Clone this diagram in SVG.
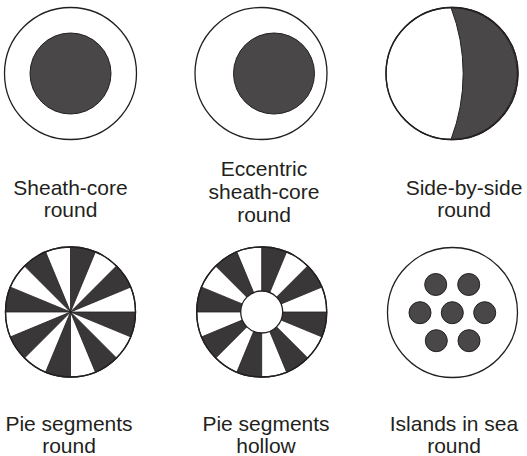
<svg xmlns="http://www.w3.org/2000/svg" xmlns:xlink="http://www.w3.org/1999/xlink" width="527" height="456" viewBox="0 0 527 456">
<style>
.ring{fill:#fff;stroke:#231f20;stroke-width:1.3}
.core{fill:#4a4748;stroke:#231f20;stroke-width:1}
.wedge{fill:#3a3738;stroke:#231f20;stroke-width:0.8}
.lbl{font-family:"Liberation Sans",Arial,sans-serif;font-size:21px;fill:#231f20;text-anchor:middle}
</style>
<defs>
<path id="w" class="wedge" d="M0,0 L0,-65 A65,65 0 0 1 24.87,-60.05 Z"/>
<g id="pie">
<circle class="ring" cx="0" cy="0" r="65"/>
<use xlink:href="#w"/>
<use xlink:href="#w" transform="rotate(45)"/>
<use xlink:href="#w" transform="rotate(90)"/>
<use xlink:href="#w" transform="rotate(135)"/>
<use xlink:href="#w" transform="rotate(180)"/>
<use xlink:href="#w" transform="rotate(225)"/>
<use xlink:href="#w" transform="rotate(270)"/>
<use xlink:href="#w" transform="rotate(315)"/>
<circle cx="0" cy="0" r="65" fill="none" stroke="#231f20" stroke-width="1.3"/>
</g>
</defs>
<g id="sheath-core">
<circle class="ring" cx="70.5" cy="73.5" r="66"/>
<circle class="core" cx="70.5" cy="73.5" r="40.5"/>
<text class="lbl" x="70.5" y="195">Sheath-core</text>
<text class="lbl" x="70.5" y="217">round</text>
</g>
<g id="eccentric">
<circle class="ring" cx="261" cy="73.5" r="66"/>
<circle class="core" cx="274" cy="73.5" r="40.5"/>
<text class="lbl" x="264" y="176">Eccentric</text>
<text class="lbl" x="264" y="199">sheath-core</text>
<text class="lbl" x="264" y="222">round</text>
</g>
<g id="side-by-side">
<circle class="ring" cx="452" cy="73.5" r="66"/>
<path class="core" d="M451,7.5 A66,66 0 0 1 451,139.5 A185,185 0 0 0 451,7.5 Z"/>
<circle cx="452" cy="73.5" r="66" fill="none" stroke="#231f20" stroke-width="1.3"/>
<text class="lbl" x="464" y="195">Side-by-side</text>
<text class="lbl" x="464" y="217">round</text>
</g>
<g id="pie-round">
<use xlink:href="#pie" transform="translate(70.5,312)"/>
<text class="lbl" x="69" y="431">Pie segments</text>
<text class="lbl" x="69" y="453">round</text>
</g>
<g id="pie-hollow">
<use xlink:href="#pie" transform="translate(261.7,312)"/>
<circle class="ring" cx="261.7" cy="312" r="21"/>
<text class="lbl" x="266" y="431">Pie segments</text>
<text class="lbl" x="266" y="453">hollow</text>
</g>
<g id="islands">
<circle class="ring" cx="452.5" cy="312.5" r="65"/>
<circle class="core" cx="435.7" cy="284.5" r="11"/>
<circle class="core" cx="468.7" cy="284.5" r="11"/>
<circle class="core" cx="420" cy="312.7" r="11"/>
<circle class="core" cx="452.3" cy="312.7" r="11"/>
<circle class="core" cx="484.7" cy="312.7" r="11"/>
<circle class="core" cx="436.3" cy="340.7" r="11"/>
<circle class="core" cx="469" cy="340.7" r="11"/>
<text class="lbl" x="454" y="431">Islands in sea</text>
<text class="lbl" x="454" y="453">round</text>
</g>
<g id="connectors"/>
</svg>
